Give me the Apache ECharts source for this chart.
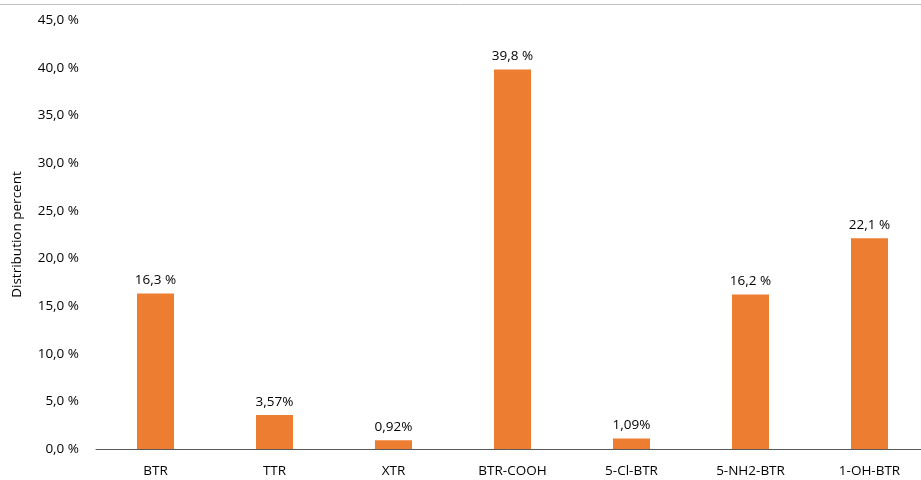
<!DOCTYPE html>
<html>
<head>
<meta charset="utf-8">
<script src="https://cdn.jsdelivr.net/npm/echarts@6/dist/echarts.min.js"></script>
<style>
  html, body { margin: 0; padding: 0; background: #fff; }
  #chart { width: 921px; height: 480px; }
</style>
</head>
<body>
<div id="chart"></div>
<script>
// Distribution of benzotriazole derivatives
const categories = ['BTR', 'TTR', 'XTR', 'BTR-COOH', '5-Cl-BTR', '5-NH2-BTR', '1-OH-BTR'];
const distribution = [16.3, 3.57, 0.92, 39.8, 1.09, 16.2, 22.1];
const valueLabels = ['16,3 %', '3,57%', '0,92%', '39,8 %', '1,09%', '16,2 %', '22,1 %'];
const yTicks = [0, 5, 10, 15, 20, 25, 30, 35, 40, 45];

const font = '"Open Sans", "Noto Sans", sans-serif';
const chart = echarts.init(document.getElementById('chart'), null, { renderer: 'canvas' });

chart.setOption({
  animation: false,
  backgroundColor: '#fff',
  graphic: [{
    type: 'line',
    shape: { x1: 0, y1: 4.5, x2: 921, y2: 4.5 },
    style: { stroke: '#bfbfbf', lineWidth: 1 }
  }],
  // plot area runs slightly past the right edge of the canvas
  grid: { left: 96, width: 833, top: 20, height: 429, containLabel: false, outerBoundsMode: 'none' },
  xAxis: {
    type: 'category',
    data: categories,
    axisLine: { show: true, lineStyle: { color: '#595959', width: 1 } },
    axisTick: { show: false },
    axisLabel: { color: '#000', fontFamily: font, fontSize: 13.5, margin: 15 }
  },
  yAxis: {
    type: 'value',
    min: yTicks[0],
    max: yTicks[yTicks.length - 1],
    interval: 5,
    name: 'Distribution percent',
    nameLocation: 'middle',
    nameGap: 72,
    nameRotate: 90,
    nameTextStyle: { color: '#000', fontFamily: font, fontSize: 13.5 },
    axisLine: { show: false },
    axisTick: { show: false },
    splitLine: { show: false },
    axisLabel: {
      color: '#000', fontFamily: font, fontSize: 13.5, margin: 17,
      formatter: v => v.toFixed(1).replace('.', ',') + ' %'
    }
  },
  series: [{
    type: 'bar',
    data: distribution,
    barWidth: 37,
    itemStyle: { color: '#ED7D31' },
    label: {
      show: true,
      position: 'top',
      distance: 6,
      color: '#000',
      fontFamily: font,
      fontSize: 13.5,
      formatter: p => valueLabels[p.dataIndex]
    }
  }]
});
</script>
</body>
</html>
